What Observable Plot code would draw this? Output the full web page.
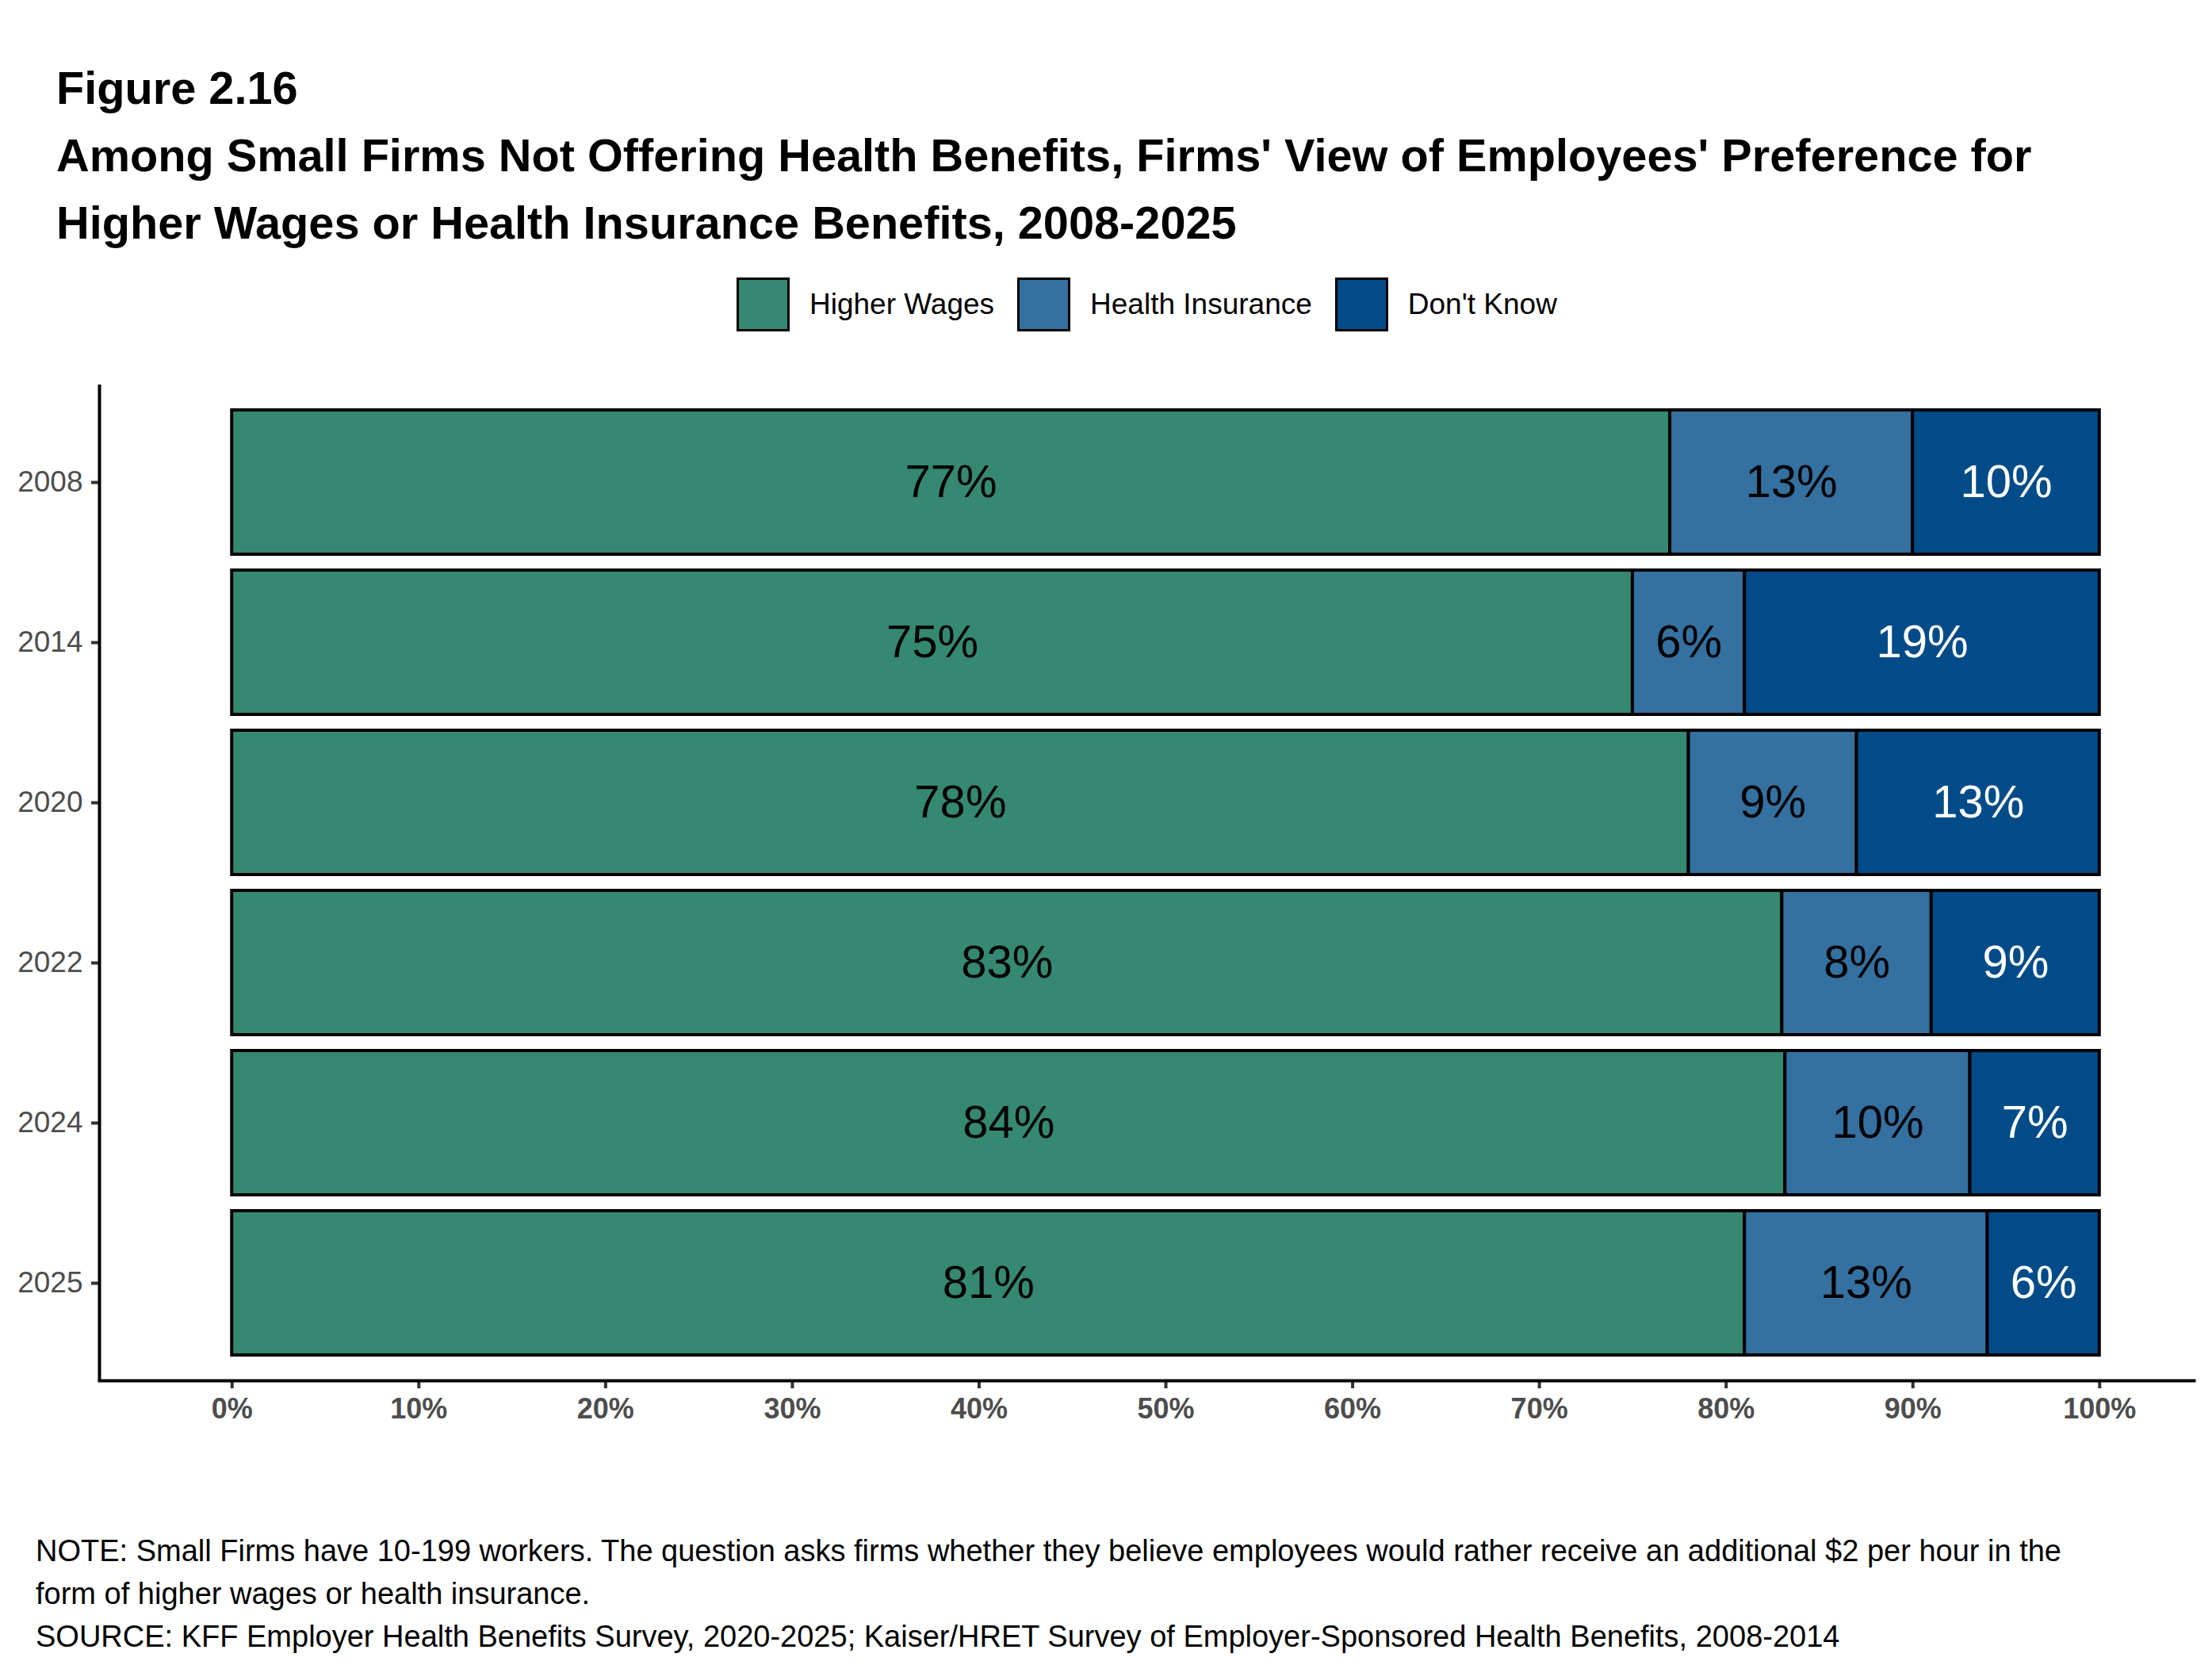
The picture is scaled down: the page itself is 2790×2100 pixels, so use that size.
<!DOCTYPE html>
<html>
<head>
<meta charset="utf-8">
<script src="https://cdn.jsdelivr.net/npm/d3@7"></script>
<script src="https://cdn.jsdelivr.net/npm/@observablehq/plot@0.6"></script>
<style>
html, body { margin: 0; padding: 0; background: #fff; }
body { width: 2790px; height: 2100px; position: relative; overflow: hidden; font-family: "Liberation Sans", Arial, sans-serif; color: #000; }
#title { position: absolute; left: 71px; top: 69px; font-weight: bold; font-size: 57.7px; line-height: 85px; white-space: nowrap; }
#legend { position: absolute; left: 929px; top: 350px; height: 68px; display: flex; align-items: center; }
.key { width: 61px; height: 62px; border: 3px solid #000; margin-right: 25px; flex: none; }
.lab { font-size: 37px; margin-right: 29px; white-space: nowrap; }
#chart { position: absolute; left: 0; top: 440px; }
#notes { position: absolute; left: 45px; top: 1929px; font-size: 38px; line-height: 54px; white-space: nowrap; }
</style>
</head>
<body>
<div id="title">Figure 2.16<br>Among Small Firms Not Offering Health Benefits, Firms' View of Employees' Preference for<br>Higher Wages or Health Insurance Benefits, 2008-2025</div>
<div id="legend"></div>
<div id="chart"></div>
<div id="notes">NOTE: Small Firms have 10-199 workers. The question asks firms whether they believe employees would rather receive an additional $2 per hour in the<br>form of higher wages or health insurance.<br>SOURCE: KFF Employer Health Benefits Survey, 2020-2025; Kaiser/HRET Survey of Employer-Sponsored Health Benefits, 2008-2014</div>
<script>
const years = ["2008", "2014", "2020", "2022", "2024", "2025"];
const categories = ["Higher Wages", "Health Insurance", "Don't Know"];
const higherWages = [77, 75, 78, 83, 84, 81];
const healthInsurance = [13, 6, 9, 8, 10, 13];
const dontKnow = [10, 19, 13, 9, 7, 6];
const colors = ["#358872", "#3470a0", "#004b88"];
const xTicks = [0, 0.1, 0.2, 0.3, 0.4, 0.5, 0.6, 0.7, 0.8, 0.9, 1];
const xDomain = [-0.071, 1.0506];

const series = [higherWages, healthInsurance, dontKnow];
const data = years.flatMap((year, i) =>
  categories.map((category, j) => ({year, category, value: series[j][i]}))
);

// legend
const legend = document.getElementById("legend");
categories.forEach((c, j) => {
  const k = document.createElement("div");
  k.className = "key";
  k.style.background = colors[j];
  const l = document.createElement("div");
  l.className = "lab";
  l.textContent = c;
  legend.appendChild(k);
  legend.appendChild(l);
});

const stackOpts = {x: "value", y: "year", z: "category", order: categories, offset: "normalize"};

const chart = Plot.plot({
  width: 2790,
  height: 1420,
  marginTop: 45,
  marginBottom: 119,
  marginLeft: 125,
  marginRight: 23,
  style: {fontFamily: "Liberation Sans, Arial, sans-serif", background: "white", overflow: "visible"},
  x: {domain: xDomain},
  y: {domain: years, paddingInner: 0.1, paddingOuter: 0.15},
  color: {domain: categories, range: colors},
  marks: [
    Plot.barX(data, Plot.stackX({...stackOpts, fill: "category", stroke: "#000", strokeWidth: 4})),
    Plot.text(data, Plot.filter(d => d.category !== "Don't Know",
      Plot.stackX({...stackOpts, text: d => d.value + "%", fill: "#000", fontSize: 58}))),
    Plot.text(data, Plot.filter(d => d.category === "Don't Know",
      Plot.stackX({...stackOpts, text: d => d.value + "%", fill: "#fff", fontSize: 58}))),
    Plot.axisX({ticks: xTicks, tickFormat: d3.format(".0%"), tickSize: 10, tickPadding: 12,
      fontSize: 36, fontWeight: "bold", fill: "#4d4d4d", stroke: "#333", strokeWidth: 4, label: null}),
    Plot.axisY({tickSize: 10, tickPadding: 11, fontSize: 37, fill: "#4d4d4d", stroke: "#333", strokeWidth: 4, label: null}),
    Plot.ruleX([xDomain[0]], {stroke: "#000", strokeWidth: 4}),
    Plot.frame({anchor: "bottom", stroke: "#000", strokeWidth: 4})
  ]
});
document.getElementById("chart").appendChild(chart);
</script>
</body>
</html>
